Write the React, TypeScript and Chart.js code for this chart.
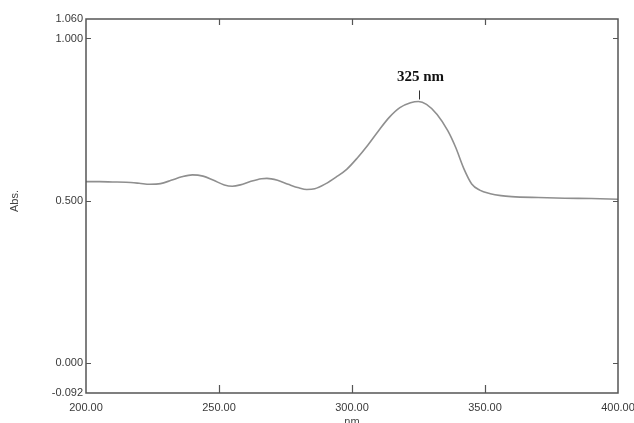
import React, { useEffect, useRef } from "react";
import { Chart, registerables } from "chart.js";

Chart.register(...registerables);

const wavelengths = [200, 205, 210, 215, 220, 224, 228, 232, 236, 240, 244, 248, 252, 255, 258, 262, 266, 268, 272, 276, 280, 283, 286, 290, 294, 298, 302, 306, 310, 314, 318, 322, 325, 328, 332, 336, 339, 342, 345, 348, 352, 356, 360, 370, 380, 390, 400];
const absorbance = [0.559, 0.559, 0.558, 0.557, 0.554, 0.551, 0.553, 0.563, 0.574, 0.58, 0.576, 0.563, 0.549, 0.545, 0.549, 0.56, 0.568, 0.569, 0.563, 0.551, 0.54, 0.535, 0.537, 0.552, 0.573, 0.597, 0.632, 0.672, 0.716, 0.757, 0.787, 0.802, 0.806, 0.797, 0.766, 0.716, 0.664, 0.6, 0.552, 0.533, 0.522, 0.516, 0.513, 0.51, 0.508, 0.507, 0.505];
const yTickValues = [-0.092, 0, 0.5, 1.0, 1.06];
const yInnerTicks = [0, 0.5, 1.0];
const xInnerTicks = [250, 300, 350];
const peakWavelength = 325;
const peakLabel = "325 nm";
const xTitle = "nm";
const yTitle = "Abs.";

const framePlugin = {
  id: "frame",
  afterDraw(chart: any) {
    const { ctx, chartArea, scales } = chart;
    const { left, right, top, bottom } = chartArea;
    const xs = scales.x;
    const ys = scales.y;
    ctx.save();
    ctx.strokeStyle = "#555";
    ctx.lineWidth = 1.5;
    ctx.strokeRect(left, top, right - left, bottom - top);
    ctx.lineWidth = 1.2;
    ctx.beginPath();
    for (const v of xInnerTicks) {
      const px = Math.round(xs.getPixelForValue(v)) + 0.5;
      ctx.moveTo(px, bottom);
      ctx.lineTo(px, bottom - 8);
      ctx.moveTo(px, top);
      ctx.lineTo(px, top + 6);
    }
    for (const v of yInnerTicks) {
      const py = Math.round(ys.getPixelForValue(v)) + 0.5;
      ctx.moveTo(left, py);
      ctx.lineTo(left + 5, py);
      ctx.moveTo(right, py);
      ctx.lineTo(right - 5, py);
    }
    ctx.stroke();

    // peak annotation
    const idx = wavelengths.indexOf(peakWavelength);
    const pxp = xs.getPixelForValue(peakWavelength);
    const pyp = ys.getPixelForValue(absorbance[idx]);
    ctx.strokeStyle = "#333";
    ctx.lineWidth = 1;
    ctx.beginPath();
    ctx.moveTo(Math.round(pxp) + 0.5, pyp - 11);
    ctx.lineTo(Math.round(pxp) + 0.5, pyp - 2);
    ctx.stroke();
    ctx.fillStyle = "#111";
    ctx.font = "bold 15px 'Liberation Serif', 'Times New Roman', serif";
    ctx.textAlign = "center";
    ctx.textBaseline = "middle";
    ctx.fillText(peakLabel, pxp + 2, pyp - 24);

    // axis titles
    ctx.fillStyle = "#444";
    ctx.font = "11px 'Liberation Sans', Arial, sans-serif";
    ctx.fillText(xTitle, (left + right) / 2, 422);
    ctx.translate(15, (top + bottom) / 2 - 5);
    ctx.rotate(-Math.PI / 2);
    ctx.fillText(yTitle, 0, 0);
    ctx.restore();
  },
};

export default function App() {
  const canvasRef = useRef<HTMLCanvasElement | null>(null);
  useEffect(() => {
    const canvas = canvasRef.current;
    if (!canvas) return;
    const chart = new Chart(canvas, {
      type: "scatter",
      data: {
        datasets: [
          {
            data: wavelengths.map((w, i) => ({ x: w, y: absorbance[i] })),
            showLine: true,
            borderColor: "#8f8f8f",
            borderWidth: 1.6,
            pointRadius: 0,
            tension: 0.4,
            cubicInterpolationMode: "monotone",
          } as any,
        ],
      },
      options: {
        responsive: false,
        animation: false,
        devicePixelRatio: 1,
        layout: { padding: { left: 0, top: 19, right: 16, bottom: 0 } },
        plugins: { legend: { display: false }, tooltip: { enabled: false } },
        scales: {
          x: {
            type: "linear",
            min: 200,
            max: 400,
            grid: { display: false, drawTicks: false },
            border: { display: false },
            ticks: {
              stepSize: 50,
              padding: 8,
              color: "#3a3a3a",
              font: { family: "'Liberation Sans', Arial, sans-serif", size: 11 },
              maxRotation: 0,
              callback: (v: any) => Number(v).toFixed(2),
            },
            afterFit: (s: any) => {
              s.height = 30;
              s.paddingLeft = 0;
              s.paddingRight = 0;
            },
          },
          y: {
            type: "linear",
            min: -0.092,
            max: 1.06,
            grid: { display: false, drawTicks: false },
            border: { display: false },
            afterBuildTicks: (s: any) => {
              s.ticks = yTickValues.map((v) => ({ value: v }));
            },
            ticks: {
              padding: 3,
              color: "#3a3a3a",
              font: { family: "'Liberation Sans', Arial, sans-serif", size: 11 },
              callback: (v: any) => Number(v).toFixed(3),
            },
            afterFit: (s: any) => {
              s.width = 86;
              s.paddingTop = 0;
              s.paddingBottom = 0;
            },
          },
        },
      },
      plugins: [framePlugin],
    });
    return () => chart.destroy();
  }, []);
  return (
    <div style={{ position: "fixed", left: 0, top: 0, width: 634, height: 423, background: "#fff" }}>
      <canvas ref={canvasRef} width={634} height={423} style={{ display: "block" }} />
    </div>
  );
}
